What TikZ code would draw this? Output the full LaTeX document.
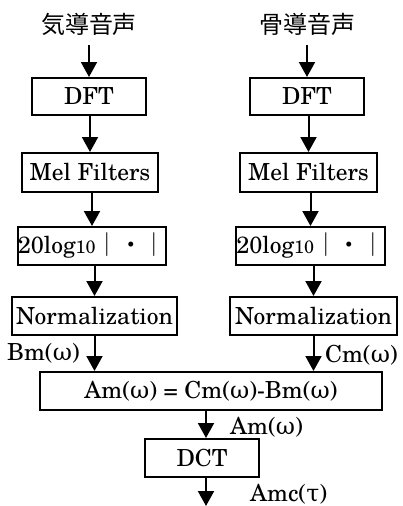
\documentclass[tikz,border=0pt]{standalone}
\usepackage{fontspec}
\setmainfont{TeX Gyre Schola}
\newfontfamily\cjk{Noto Sans CJK JP}
\newfontfamily\grk{DejaVu Serif}
\usetikzlibrary{arrows.meta}
\newcommand{\om}{{\grk ω}}
\begin{document}
\begin{tikzpicture}[x=1pt,y=-1pt,
  box/.style={draw, line width=2pt, inner sep=0pt, font=\fontsize{23.5}{28}\selectfont},
  lbl/.style={inner sep=0pt, font=\fontsize{23.5}{28}\selectfont},
  ttl/.style={inner sep=0pt, minimum height=42pt, font=\cjk\fontsize{24}{28}\selectfont},
  arr/.style={line width=2pt, -{Triangle[width=16pt,length=15pt]}},
]
\useasboundingbox (0,0) rectangle (402,506);
% titles
\node[ttl] (t1) at (89,24) {気導音声};
\node[ttl] (t2) at (307,24) {骨導音声};
% left column
\node[box, minimum width=114pt, minimum height=37pt] (dft1) at (89,96.5) {DFT};
\node[box, minimum width=136pt, minimum height=39pt] (mel1) at (90,172.5) {Mel Filters};
\node[box, minimum width=136pt, minimum height=38pt] (log1) at (92,246) {20log{\fontsize{18}{20}\selectfont 10}{\cjk ｜・｜}};
\node[box, minimum width=165pt, minimum height=38pt] (norm1) at (94.5,316) {Normalization};
% right column
\node[box, minimum width=114pt, minimum height=37pt] (dft2) at (307,96.5) {DFT};
\node[box, minimum width=137pt, minimum height=39pt] (mel2) at (308.5,172.5) {Mel Filters};
\node[box, minimum width=137pt, minimum height=38pt] (log2) at (310.5,246) {20log{\fontsize{18}{20}\selectfont 10}{\cjk ｜・｜}};
\node[box, minimum width=167pt, minimum height=38pt] (norm2) at (313.5,316) {Normalization};
% merge
\node[box, minimum width=342pt, minimum height=38pt] (big) at (211,391) {Am(\om) = Cm(\om)-Bm(\om)};
\node[box, minimum width=114pt, minimum height=38pt] (dct) at (202,458) {DCT};
\coordinate (bot) at (206,506);
% labels
\node[lbl, anchor=east] (lb) at (80,353) {Bm(\om)};
\node[lbl, anchor=east] (lc) at (398,355) {Cm(\om)};
\node[lbl, anchor=west] (la) at (230,427) {Am(\om)};
\node[lbl, anchor=west] (lamc) at (250,494) {Amc({\grk τ})};
% arrows
\draw[arr] (t1.south -| dft1) -- (dft1.north);
\draw[arr] (dft1.south -| mel1) -- (mel1.north);
\draw[arr] (mel1.south -| log1) -- (log1.north);
\draw[arr] (log1.south -| norm1) -- (norm1.north);
\draw[arr] (t2.south -| dft2) -- (dft2.north);
\draw[arr] (dft2.south -| mel2) -- (mel2.north);
\draw[arr] (mel2.south -| log2) -- (log2.north);
\draw[arr] (log2.south -| norm2) -- (norm2.north);
\draw[arr] (norm1.south) -- (norm1.south |- big.north);
\draw[arr] (norm2.south) -- (norm2.south |- big.north);
\draw[arr] (big.south -| bot) -- (dct.north -| bot);
\draw[arr] (dct.south -| bot) -- (bot);
\end{tikzpicture}
\end{document}
